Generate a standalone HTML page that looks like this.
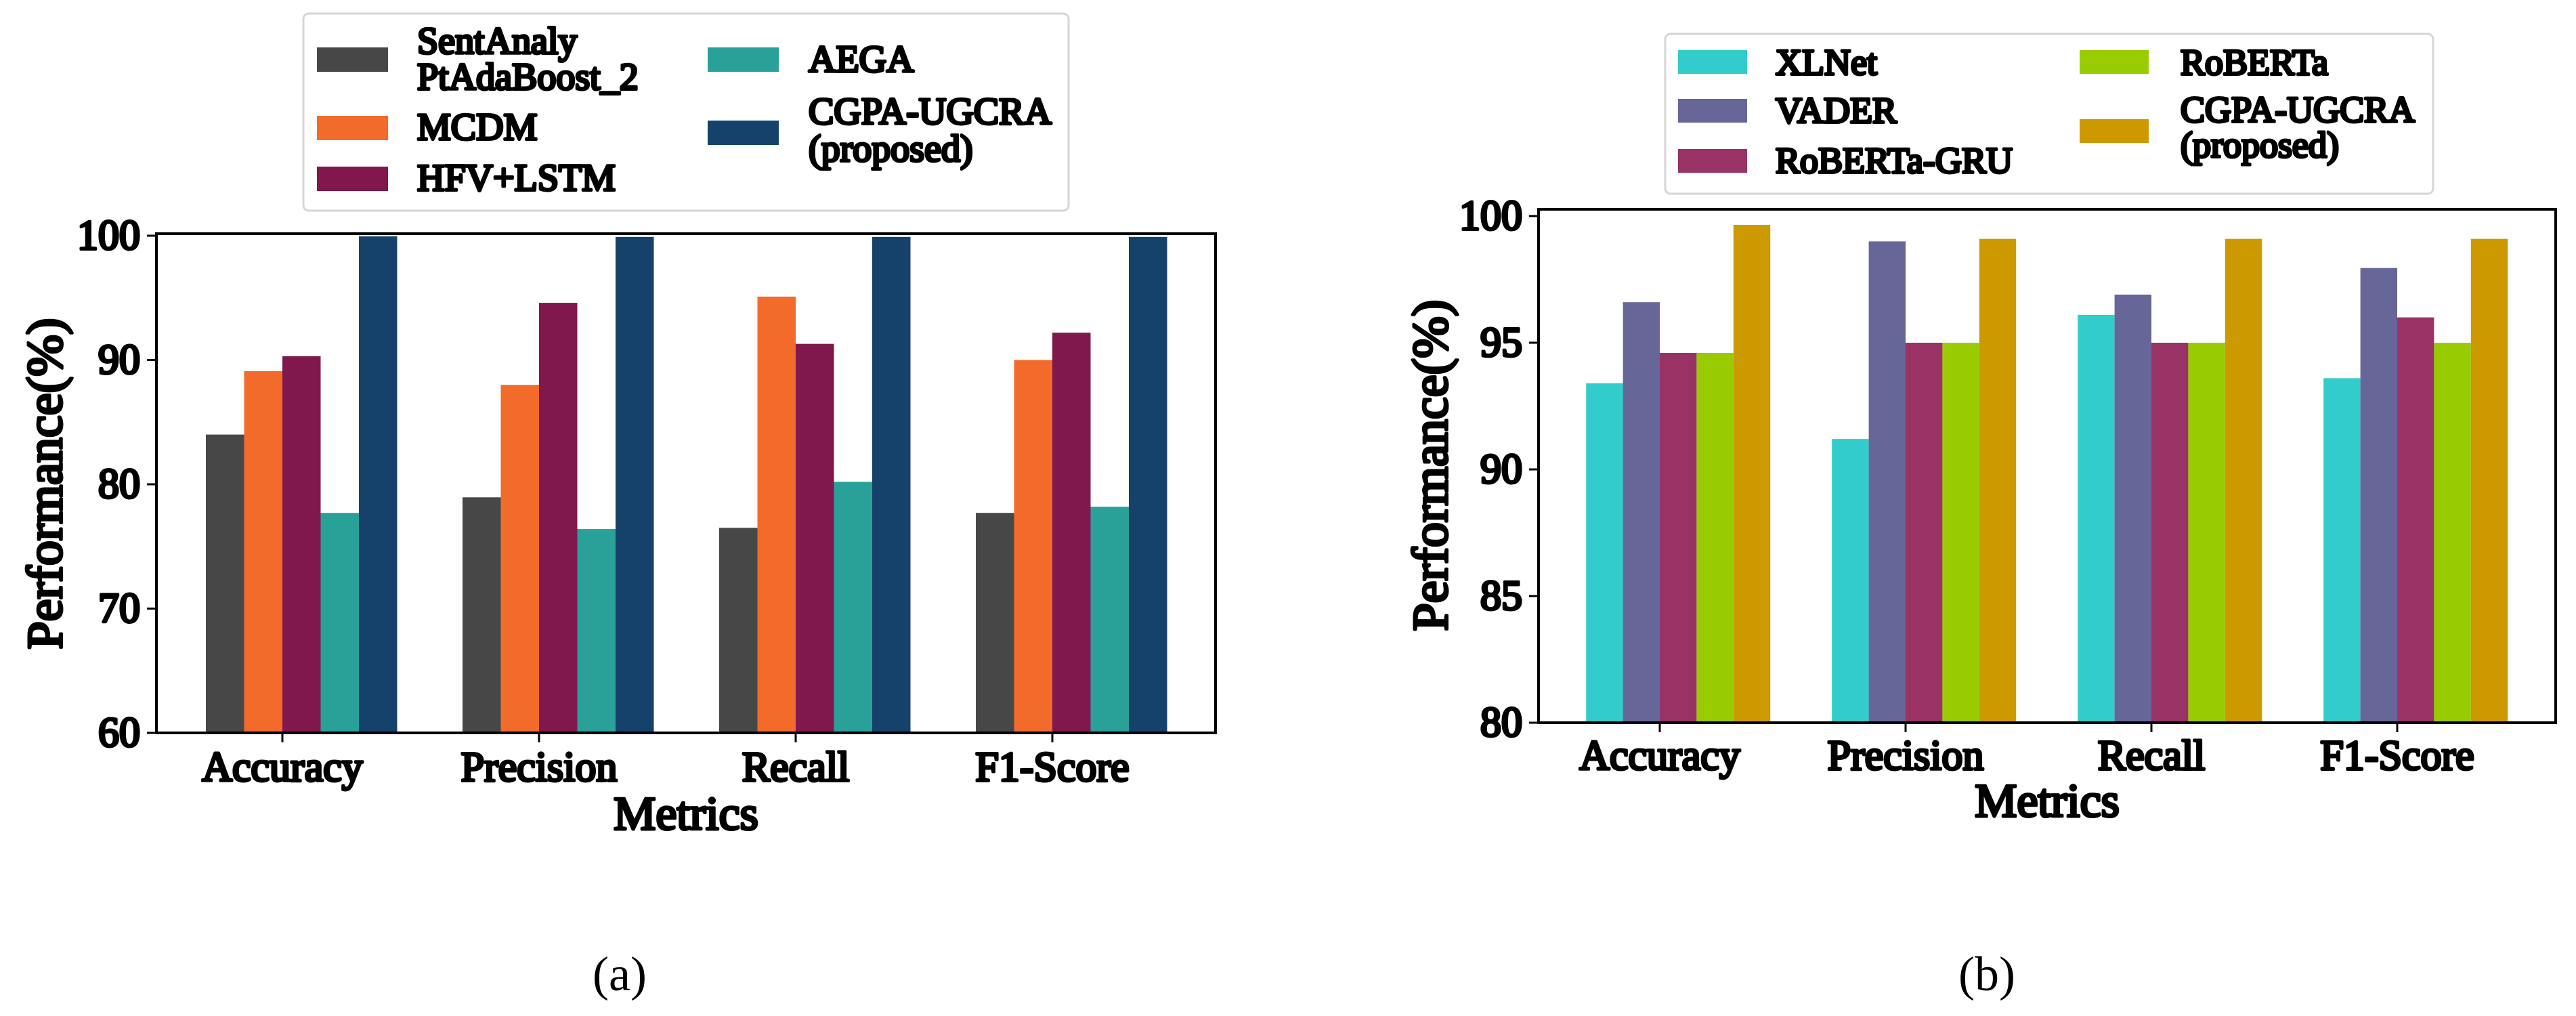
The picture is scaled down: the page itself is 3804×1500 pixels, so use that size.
<!DOCTYPE html>
<html><head><meta charset="utf-8"><style>
html,body{margin:0;padding:0;background:#fff;}
svg{display:block;}
svg text{font-family:"Liberation Serif","Times New Roman",serif;font-weight:normal;fill:#000;}
</style></head>
<body>
<svg id="fig" width="3804" height="1500" xmlns="http://www.w3.org/2000/svg">
  <g id="chartA"></g>
  <g id="chartB"></g>
  <text x="915" y="1438" font-size="72" text-anchor="middle" dominant-baseline="central">(a)</text>
  <text x="2934" y="1438" font-size="72" text-anchor="middle" dominant-baseline="central">(b)</text>
</svg>
<script>
const categories = ["Accuracy","Precision","Recall","F1-Score"];
const seriesNamesA = ["SentAnaly PtAdaBoost_2","MCDM","HFV+LSTM","AEGA","CGPA-UGCRA (proposed)"];
const sentAnaly = [84.0,78.95,76.5,77.7];
const mcdm = [89.1,88.0,95.1,90.0];
const hfvLstm = [90.3,94.6,91.3,92.2];
const aega = [77.7,76.4,80.2,78.2];
const cgpaA = [99.95,99.9,99.9,99.9];
const ticksA = [60,70,80,90,100];

const seriesNamesB = ["XLNet","VADER","RoBERTa-GRU","RoBERTa","CGPA-UGCRA (proposed)"];
const xlnet = [93.4,91.2,96.1,93.6];
const vader = [96.6,99.0,96.9,97.95];
const robertaGru = [94.6,95.0,95.0,96.0];
const roberta = [94.6,95.0,95.0,95.0];
const cgpaB = [99.65,99.1,99.1,99.1];
const ticksB = [80,85,90,95,100];

const NS="http://www.w3.org/2000/svg";
function mk(parent,tag,attrs){const e=document.createElementNS(NS,tag);for(const k in attrs)e.setAttribute(k,attrs[k]);parent.appendChild(e);return e;}
function bt(parent,attrs){const t=mk(parent,'text',attrs);t.setAttribute('stroke','#000');t.setAttribute('stroke-width','4');t.setAttribute('stroke-linejoin','round');return t;}

function drawChart(g,cfg){
  const yS=v=>cfg.y0px+(v-cfg.v0)*(cfg.y1px-cfg.y0px)/(cfg.v1-cfg.v0);
  const xT=i=>cfg.tick0+i*cfg.spacing;
  cfg.series.forEach((vals,s)=>{
    vals.forEach((v,i)=>{
      const x=xT(i)+(s-2)*cfg.w;
      const r=mk(g,'rect',{x:x,y:yS(v),width:cfg.w,height:cfg.bottom-yS(v),fill:cfg.colors[s]});
      
      
    });
  });
  const fr=mk(g,'rect',{x:cfg.left,y:cfg.top,width:cfg.right-cfg.left,height:cfg.bottom-cfg.top,fill:'none',stroke:'#000','stroke-width':4});
  
  
  cfg.ticks.forEach(t=>{
    const y=yS(t);
    mk(g,'line',{x1:cfg.left-14,x2:cfg.left,y1:y,y2:y,stroke:'#000','stroke-width':3});
    const tx=bt(g,{x:cfg.left-24,y:y,'font-size':62,'text-anchor':'end','dominant-baseline':'central'});
    tx.textContent=t;
    
    
  });
  categories.forEach((c,i)=>{
    const x=xT(i);
    mk(g,'line',{x1:x,x2:x,y1:cfg.bottom,y2:cfg.bottom+14,stroke:'#000','stroke-width':3});
    const tx=bt(g,{x:x,y:cfg.xlabY,'font-size':62,'text-anchor':'middle','dominant-baseline':'central'});
    tx.textContent=c;
    
    
  });
  const xt=bt(g,{x:(cfg.left+cfg.right)/2,y:cfg.xtitleY,'font-size':70,'text-anchor':'middle','dominant-baseline':'central'});
  xt.textContent='Metrics';
  
  
  const yt=bt(g,{x:0,y:0,'font-size':74,'text-anchor':'middle','dominant-baseline':'central',transform:`translate(${cfg.ytitleX},${cfg.ytitleY}) rotate(-90)`});
  yt.textContent='Performance(%)';
  
  
  const L=cfg.legend;
  const lg=mk(g,'g',{});
  
  
  mk(lg,'rect',{x:L.x,y:L.y,width:L.w,height:L.h,rx:8,fill:'#fff',stroke:'#d6d6d6','stroke-width':3});
  L.items.forEach((it,s)=>{
    const e=mk(lg,'g',{});
    
    
    mk(e,'rect',{x:it.px,y:it.py,width:L.pw,height:L.ph,fill:cfg.colors[s]});
    it.lines.forEach((ln,k)=>{
      const t=bt(e,{x:it.tx,y:it.ty[k],'font-size':L.fs,'dominant-baseline':'central'});
      t.textContent=ln;
    });
  });
}

drawChart(document.getElementById('chartA'),{
  series:[sentAnaly,mcdm,hfvLstm,aega,cgpaA],
  keys:['sentanaly','mcdm','hfv-lstm','aega','cgpa-ugcra'],
  colors:['#474747','#f26b2a','#80184d','#2aa198','#15426b'],
  ticks:ticksA,v0:60,v1:100,y0px:1082,y1px:348,
  left:231,right:1795,top:345,bottom:1082,
  tick0:417,spacing:379,w:56.5,
  xlabY:1133,xtitleY:1202,ytitleX:67,ytitleY:714,
  legend:{x:448,y:20,w:1130,h:291,pw:105,ph:36,fs:56,items:[
    {px:468,py:70,tx:616,ty:[61,114],lines:['SentAnaly','PtAdaBoost_2']},
    {px:468,py:171,tx:616,ty:[188],lines:['MCDM']},
    {px:468,py:246,tx:616,ty:[263],lines:['HFV+LSTM']},
    {px:1045,py:70,tx:1194,ty:[88],lines:['AEGA']},
    {px:1045,py:178,tx:1194,ty:[165,220],lines:['CGPA-UGCRA','(proposed)']}
  ]}
});

drawChart(document.getElementById('chartB'),{
  series:[xlnet,vader,robertaGru,roberta,cgpaB],
  keys:['xlnet','vader','roberta-gru','roberta','cgpa-ugcra'],
  colors:['#33cccc','#666699','#993366','#99cc00','#cc9900'],
  ticks:ticksB,v0:80,v1:100,y0px:1067,y1px:319,
  left:2272,right:3774,top:309,bottom:1067,
  tick0:2451,spacing:363,w:54.4,
  xlabY:1116,xtitleY:1183,ytitleX:2113,ytitleY:687,
  legend:{x:2459,y:50,w:1134,h:236,pw:102,ph:35,fs:54,items:[
    {px:2478,py:74,tx:2622,ty:[92],lines:['XLNet']},
    {px:2478,py:146,tx:2622,ty:[163],lines:['VADER']},
    {px:2478,py:220,tx:2622,ty:[237],lines:['RoBERTa-GRU']},
    {px:3071,py:74,tx:3220,ty:[92],lines:['RoBERTa']},
    {px:3071,py:176,tx:3220,ty:[162,214],lines:['CGPA-UGCRA','(proposed)']}
  ]}
});
</script>
</body></html>
